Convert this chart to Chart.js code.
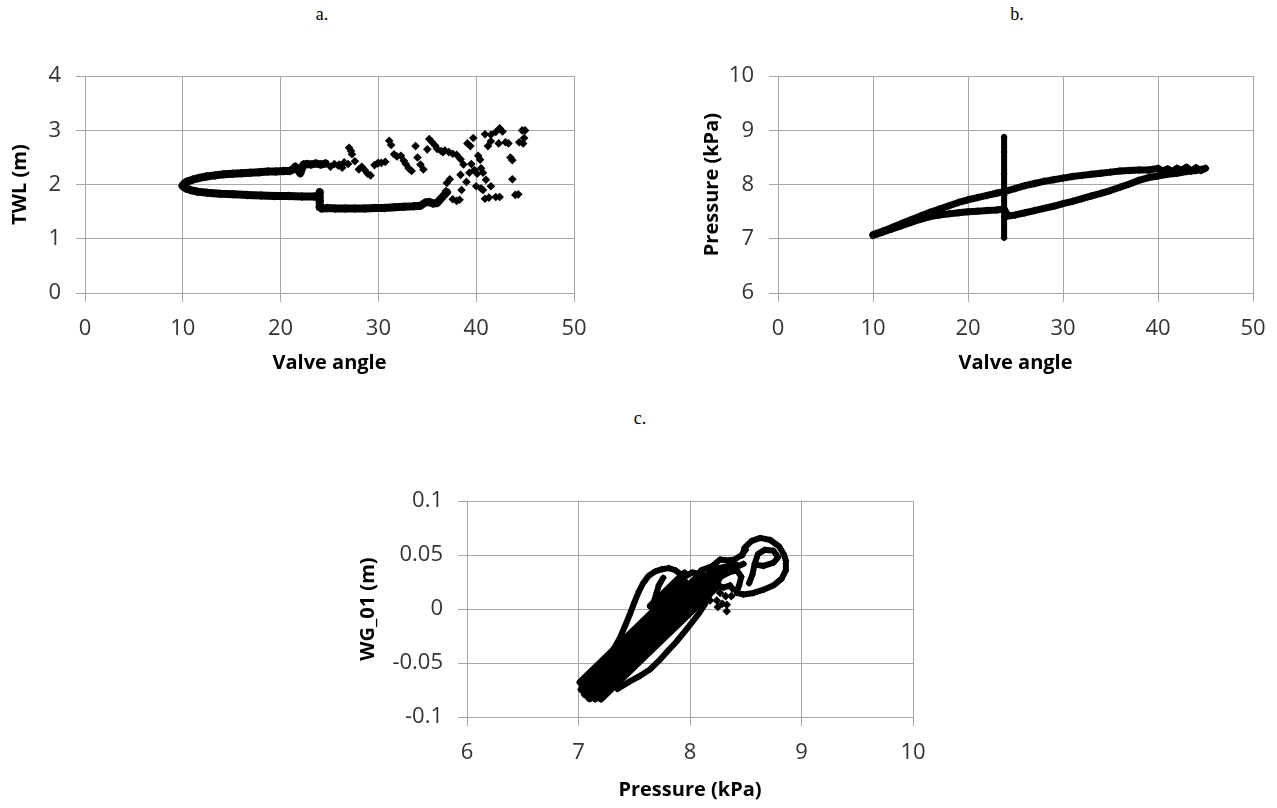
<!DOCTYPE html>
<html>
<head>
<meta charset="utf-8">
<script src="https://cdn.jsdelivr.net/npm/chart.js@4.4.1/dist/chart.umd.min.js"></script>
<style>
  body { margin: 0; background: #fff; width: 1277px; height: 808px; position: relative; overflow: hidden; }
  canvas { position: absolute; }
  .panel-tag { position: absolute; font-family: "Liberation Serif", serif; font-size: 18px; color: #000; transform: translate(-50%, -50%); }
</style>
</head>
<body>
<div class="panel-tag" style="left:322px; top:14px;">a.</div>
<div class="panel-tag" style="left:1017px; top:14px;">b.</div>
<div class="panel-tag" style="left:640px; top:418px;">c.</div>
<canvas id="chartA"></canvas>
<canvas id="chartB"></canvas>
<canvas id="chartC"></canvas>
<script>
// ---- a. TWL vs valve angle ----
const A_TICKS_X = ['0', '10', '20', '30', '40', '50'];
const A_TICKS_Y = ['0', '1', '2', '3', '4'];
// upper branch of the loop (closing valve)
const A_UP_X = [24.6, 24.1, 23.6, 23.1, 22.7, 22.35, 22.0, 21.75, 21.5, 21.25, 20.9, 20.3, 19.5, 18.7, 17.8, 16.9, 16.0, 15.1, 14.2, 13.3, 12.4, 11.6, 11.0, 10.5, 10.2, 10.0];
const A_UP_Y = [2.39, 2.37, 2.39, 2.37, 2.38, 2.37, 2.21, 2.27, 2.33, 2.28, 2.25, 2.25, 2.24, 2.24, 2.23, 2.22, 2.21, 2.20, 2.19, 2.17, 2.15, 2.12, 2.09, 2.06, 2.03, 1.99];
// lower branch with the step at 24 deg
const A_LOW_X = [10.0, 10.3, 10.8, 11.5, 12.5, 13.8, 15.2, 16.6, 18.0, 19.4, 20.8, 22.2, 23.4, 23.9, 24.0, 24.0, 24.0, 24.2, 24.8, 25.6, 26.6, 27.6, 28.6, 29.6, 30.6, 31.6, 32.6, 33.6, 34.3, 34.8, 35.2, 35.6, 36.0, 36.4, 36.7, 37.0];
const A_LOW_Y = [1.97, 1.93, 1.90, 1.87, 1.85, 1.83, 1.82, 1.81, 1.80, 1.79, 1.79, 1.78, 1.78, 1.79, 1.86, 1.70, 1.58, 1.56, 1.57, 1.56, 1.56, 1.56, 1.56, 1.57, 1.57, 1.58, 1.59, 1.60, 1.61, 1.67, 1.68, 1.65, 1.66, 1.74, 1.80, 1.86];
// scattered readings at the wide-open end
const A_PTS_X = [25.1, 25.5, 25.9, 26.3, 26.5, 26.9, 27.0, 27.2, 27.3, 27.6, 28.0, 28.3, 28.6, 28.9, 29.2, 29.6, 29.9, 30.3, 30.7, 31.1, 31.3, 31.6, 31.9, 32.3, 32.6, 32.8, 33.1, 33.4, 33.8, 34.0, 34.3, 34.6, 35.2, 35.5, 35.8, 36.0, 36.4, 36.8, 37.2, 37.6, 38.0, 38.4, 38.7, 39.1, 39.4, 39.7, 39.5, 39.8, 40.1, 40.5, 40.7, 41.0, 41.5, 40.9, 41.3, 42.0, 42.4, 40.9, 41.5, 42.0, 42.4, 42.7, 41.5, 42.3, 43.0, 43.3, 43.5, 43.7, 43.7, 44.0, 44.3, 44.4, 44.8, 44.7, 45.0, 44.9, 37.0, 37.3, 37.6, 38.0, 38.3, 38.5, 38.4, 39.0, 39.3, 40.0, 40.5, 40.7, 36.9, 40.2, 40.4, 26.0, 30.0, 35.0, 36.6, 41.2];
const A_PTS_Y = [2.33, 2.38, 2.35, 2.31, 2.41, 2.38, 2.68, 2.62, 2.56, 2.43, 2.28, 2.33, 2.27, 2.20, 2.17, 2.36, 2.39, 2.40, 2.42, 2.81, 2.73, 2.56, 2.52, 2.53, 2.44, 2.38, 2.30, 2.25, 2.71, 2.50, 2.37, 2.28, 2.84, 2.78, 2.72, 2.66, 2.62, 2.63, 2.60, 2.57, 2.55, 2.47, 2.37, 2.76, 2.71, 2.86, 2.38, 2.27, 2.20, 2.30, 2.22, 2.09, 1.97, 1.74, 1.76, 1.77, 1.77, 2.93, 2.92, 2.97, 3.04, 2.98, 2.80, 2.76, 2.78, 2.76, 2.50, 2.45, 2.10, 1.81, 1.82, 2.78, 2.76, 3.00, 3.00, 2.86, 2.03, 2.10, 1.73, 1.70, 1.72, 1.90, 2.18, 2.05, 2.22, 1.97, 1.93, 1.90, 1.88, 2.53, 2.46, 2.37, 2.40, 2.65, 2.60, 2.71];

// ---- b. Pressure vs valve angle ----
const B_TICKS_X = ['0', '10', '20', '30', '40', '50'];
const B_TICKS_Y = ['6', '7', '8', '9', '10'];
const B_LOOP_X = [10, 11, 12, 13, 14, 15, 16, 17, 18, 19, 20, 21, 22, 23, 23.8, 24.2, 25, 26, 27, 28, 29, 30, 31, 32, 33, 34, 35, 36, 37, 38, 39, 40, 41, 42, 43, 44, 45,
                  44.5, 44, 43.5, 43, 42.5, 42, 41.5, 41, 40.5, 40, 39, 38, 37, 36, 35, 34, 33, 32, 31, 30, 29, 28, 27, 26, 25, 24, 23, 22, 21, 20, 19, 18, 17, 16, 15, 14, 13, 12, 11, 10];
const B_LOOP_Y = [7.06, 7.12, 7.18, 7.24, 7.30, 7.36, 7.41, 7.44, 7.46, 7.48, 7.50, 7.51, 7.52, 7.53, 7.55, 7.42, 7.44, 7.48, 7.52, 7.56, 7.60, 7.65, 7.69, 7.74, 7.79, 7.84, 7.89, 7.95, 8.01, 8.08, 8.13, 8.16, 8.19, 8.21, 8.24, 8.26, 8.30,
                  8.26, 8.31, 8.25, 8.32, 8.26, 8.30, 8.24, 8.29, 8.25, 8.30, 8.27, 8.27, 8.26, 8.25, 8.23, 8.21, 8.19, 8.17, 8.15, 8.12, 8.09, 8.06, 8.02, 7.98, 7.93, 7.88, 7.84, 7.80, 7.76, 7.72, 7.67, 7.61, 7.55, 7.49, 7.42, 7.35, 7.28, 7.21, 7.14, 7.08];
const B_BAR_X = [23.8, 23.8, 23.8, 23.8, 23.8, 23.8];
const B_BAR_Y = [7.02, 7.40, 7.80, 8.20, 8.60, 8.88];

// ---- c. WG_01 vs pressure ----
const C_TICKS_X = ['6', '7', '8', '9', '10'];
const C_TICKS_Y = ['-0.1', '-0.05', '0', '0.05', '0.1'];
// dense core, read as parallel passes along the cloud
const C_CORE0_X = [7.65, 7.80, 7.95];
const C_CORE0_Y = [0.0028, 0.0178, 0.0328];
const C_CORE1_X = [7.02, 7.30, 7.60, 7.95];
const C_CORE1_Y = [-0.0678, -0.0398, -0.0098, 0.0252];
const C_CORE2_X = [7.03, 7.35, 7.70, 8.10];
const C_CORE2_Y = [-0.0744, -0.0424, -0.0074, 0.0327];
const C_CORE3_X = [7.06, 7.40, 7.80, 8.20];
const C_CORE3_Y = [-0.0789, -0.0449, -0.0049, 0.0351];
const C_CORE4_X = [7.10, 7.45, 7.85, 8.25];
const C_CORE4_Y = [-0.0825, -0.0475, -0.0075, 0.0325];
const C_CORE5_X = [7.15, 7.50, 7.90, 8.25];
const C_CORE5_Y = [-0.0826, -0.0476, -0.0076, 0.0274];
const C_CORE6_X = [7.20, 7.50, 7.90, 8.25];
const C_CORE6_Y = [-0.0827, -0.0527, -0.0127, 0.0223];
// outer excursions
const C_OUTER_X = [7.25, 7.32, 7.37, 7.42, 7.46, 7.50, 7.54, 7.58, 7.63, 7.69, 7.75, 7.81, 7.87, 7.92, 7.97, 8.02, 8.07];
const C_OUTER_Y = [-0.050, -0.036, -0.027, -0.015, -0.005, 0.006, 0.016, 0.024, 0.031, 0.035, 0.037, 0.038, 0.036, 0.032, 0.031, 0.034, 0.033];
const C_INNER_X = [7.76, 7.72, 7.70, 7.68];
const C_INNER_Y = [0.029, 0.022, 0.015, 0.008];
const C_LOWER_X = [7.35, 7.46, 7.55, 7.64, 7.72, 7.79, 7.88, 7.95, 8.02, 8.08, 8.13, 8.17];
const C_LOWER_Y = [-0.074, -0.067, -0.062, -0.056, -0.048, -0.040, -0.030, -0.021, -0.012, -0.004, 0.004, 0.012];
const C_BAND1_X = [8.10, 8.20, 8.27, 8.33, 8.40, 8.46, 8.50];
const C_BAND1_Y = [0.036, 0.040, 0.046, 0.045, 0.046, 0.050, 0.055];
const C_BAND2_X = [8.20, 8.28, 8.35, 8.42, 8.46, 8.44, 8.42];
const C_BAND2_Y = [0.026, 0.030, 0.034, 0.036, 0.030, 0.022, 0.016];
const C_BAND3_X = [8.25, 8.35, 8.42];
const C_BAND3_Y = [0.038, 0.040, 0.041];
const C_BAND4_X = [8.15, 8.22, 8.30, 8.36];
const C_BAND4_Y = [0.020, 0.022, 0.020, 0.022];
const C_BAND5_X = [8.12, 8.20, 8.30, 8.40, 8.48];
const C_BAND5_Y = [0.030, 0.033, 0.037, 0.038, 0.042];
const C_RING1_X = [8.42, 8.48, 8.57, 8.66, 8.75, 8.82, 8.86, 8.86, 8.84, 8.80, 8.72, 8.63, 8.55, 8.49, 8.47];
const C_RING1_Y = [0.015, 0.0135, 0.015, 0.018, 0.022, 0.028, 0.036, 0.045, 0.051, 0.058, 0.064, 0.066, 0.063, 0.057, 0.050];
const C_RING2_X = [8.53, 8.56, 8.58, 8.61, 8.67, 8.75, 8.79, 8.75, 8.66, 8.60];
const C_RING2_Y = [0.024, 0.032, 0.042, 0.051, 0.055, 0.054, 0.048, 0.043, 0.040, 0.041];
const C_PTS_X = [8.24, 8.25, 8.29, 8.33, 8.33, 8.37, 8.38, 8.27, 8.32, 8.18, 8.10];
const C_PTS_Y = [0.008, 0.002, 0.005, 0.004, -0.002, 0.012, 0.019, 0.015, 0.012, 0.008, 0.005];

const TICK_FONT = { family: 'Open Sans', size: 22 };
const TITLE_FONT = { family: 'Open Sans', size: 20, weight: 'bold' };
const TITLE_LH = 24;
const GRID = '#a6a6a6';

function pairs(xs, ys) {
    return xs.map((x, i) => ({ x: x, y: ys[i] }));
}

// a continuous run of markers, drawn as a thick stroke through the readings
function trace(xs, ys, w) {
    return {
        data: pairs(xs, ys), showLine: true,
        borderColor: '#000', borderWidth: w, borderJoinStyle: 'round', borderCapStyle: 'round',
        pointStyle: 'rectRot', pointRadius: w / 2 + 0.5, pointBackgroundColor: '#000', pointBorderWidth: 0
    };
}

function dots(xs, ys) {
    return {
        data: pairs(xs, ys), showLine: false,
        pointStyle: 'rectRot', pointRadius: 4.3, pointBackgroundColor: '#000', pointBorderWidth: 0
    };
}

function axis(min, max, step, labels, title, fit) {
    return {
        type: 'linear', min: min, max: max,
        grid: { color: GRID, lineWidth: 1, tickLength: 9, drawTicks: true },
        border: { color: GRID, width: 1 },
        ticks: {
            stepSize: step, font: TICK_FONT, color: '#333', padding: fit.pad,
            callback: (v, i) => labels[i]
        },
        title: { display: true, text: title, font: TITLE_FONT, color: '#000', padding: 0 },
        afterFit: fit.fn
    };
}

// area = wanted plot rectangle on the page; yTitleX / xTitleY = centres of axis titles
function drawPanel(id, area, yTitleX, xTitleY, xCfg, yCfg, datasets) {
    const cv = document.getElementById(id);
    const left = yTitleX - TITLE_LH / 2;
    const top = area.top - 20;
    const right = area.right + 30;
    const bottom = xTitleY + TITLE_LH / 2 + 6;
    cv.width = right - left;
    cv.height = bottom - top;
    cv.style.left = left + 'px';
    cv.style.top = top + 'px';
    const yW = area.left - left;
    const xH = xTitleY + TITLE_LH / 2 - area.bottom;

    new Chart(cv, {
        type: 'scatter',
        data: { datasets: datasets },
        options: {
            responsive: false, animation: false, devicePixelRatio: 1,
            layout: { padding: { top: 20, right: 30, bottom: 6, left: 0 } },
            plugins: { legend: { display: false }, tooltip: { enabled: false } },
            scales: {
                x: axis(xCfg.min, xCfg.max, xCfg.step, xCfg.labels, xCfg.title, { pad: 14, fn: s => { s.height = xH; } }),
                y: axis(yCfg.min, yCfg.max, yCfg.step, yCfg.labels, yCfg.title, { pad: 15, fn: s => { s.width = yW; } })
            }
        }
    });
}

drawPanel('chartA', { left: 85, top: 68, right: 574, bottom: 293 }, 20, 363,
    { min: 0, max: 50, step: 10, labels: A_TICKS_X, title: 'Valve angle' },
    { min: 0, max: 4, step: 1, labels: A_TICKS_Y, title: 'TWL (m)' },
    [trace(A_UP_X, A_UP_Y, 8), trace(A_LOW_X, A_LOW_Y, 8), dots(A_PTS_X, A_PTS_Y)]);

drawPanel('chartB', { left: 778, top: 68, right: 1253, bottom: 293 }, 712, 363,
    { min: 0, max: 50, step: 10, labels: B_TICKS_X, title: 'Valve angle' },
    { min: 6, max: 10, step: 1, labels: B_TICKS_Y, title: 'Pressure (kPa)' },
    [trace(B_LOOP_X, B_LOOP_Y, 7), trace(B_BAR_X, B_BAR_Y, 6)]);

drawPanel('chartC', { left: 467, top: 493, right: 913, bottom: 717 }, 368, 790,
    { min: 6, max: 10, step: 1, labels: C_TICKS_X, title: 'Pressure (kPa)' },
    { min: -0.1, max: 0.1, step: 0.05, labels: C_TICKS_Y, title: 'WG_01 (m)' },
    [trace(C_CORE0_X, C_CORE0_Y, 8), trace(C_CORE1_X, C_CORE1_Y, 8), trace(C_CORE2_X, C_CORE2_Y, 8), trace(C_CORE3_X, C_CORE3_Y, 8),
     trace(C_CORE4_X, C_CORE4_Y, 8), trace(C_CORE5_X, C_CORE5_Y, 8), trace(C_CORE6_X, C_CORE6_Y, 8),
     trace(C_OUTER_X, C_OUTER_Y, 6), trace(C_INNER_X, C_INNER_Y, 6), trace(C_LOWER_X, C_LOWER_Y, 6),
     trace(C_BAND1_X, C_BAND1_Y, 6), trace(C_BAND2_X, C_BAND2_Y, 6), trace(C_BAND3_X, C_BAND3_Y, 6),
     trace(C_BAND4_X, C_BAND4_Y, 6), trace(C_BAND5_X, C_BAND5_Y, 6),
     trace(C_RING1_X, C_RING1_Y, 6), trace(C_RING2_X, C_RING2_Y, 6), dots(C_PTS_X, C_PTS_Y)]);
</script>
</body>
</html>
